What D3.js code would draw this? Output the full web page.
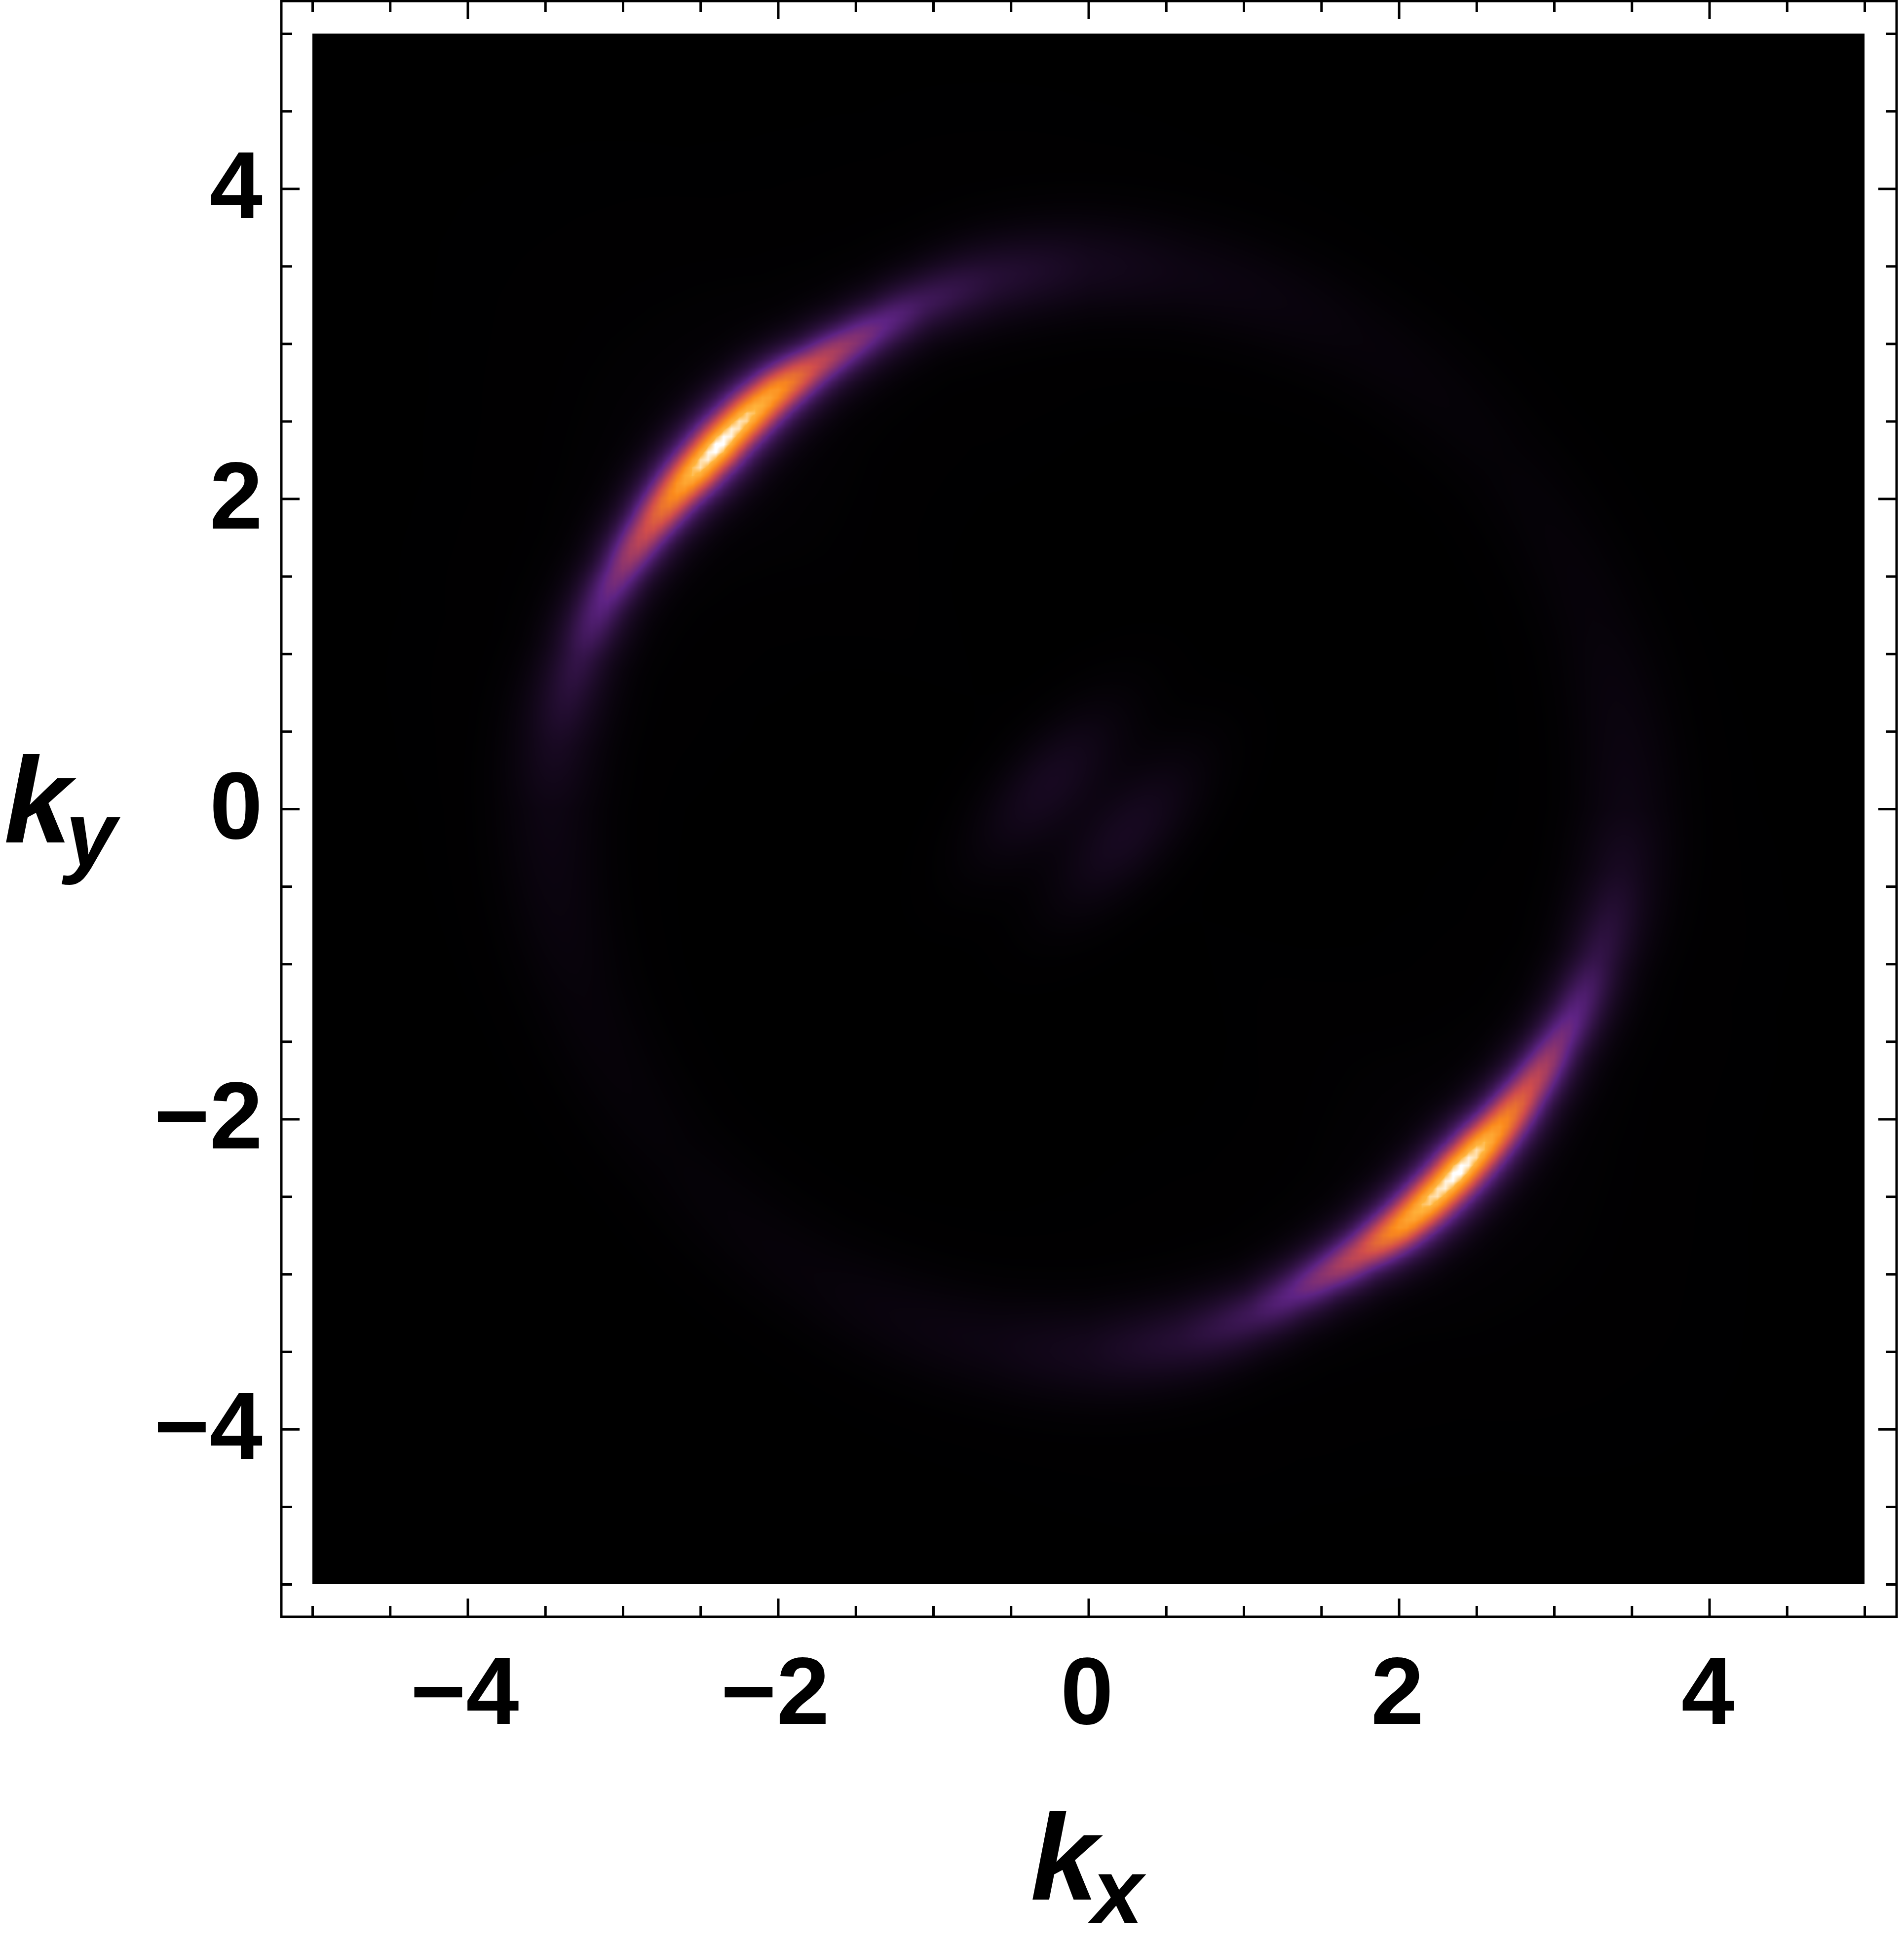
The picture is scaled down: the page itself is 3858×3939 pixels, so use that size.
<!DOCTYPE html>
<html><head><meta charset="utf-8">
<script src="https://cdn.jsdelivr.net/npm/d3@7"></script>
<style>
html,body{margin:0;padding:0;background:#fff;}
#wrap{position:relative;width:3858px;height:3939px;}
canvas,svg{position:absolute;left:0;top:0;}
text{font-family:"Liberation Sans",Arial,sans-serif;font-weight:bold;fill:#000;}
</style></head><body><div id="wrap"><canvas id="heat"></canvas><svg id="chart" width="3858" height="3939"></svg></div>
<script>
// Tick values
const majorTicks = [-4,-2,0,2,4];
const minorTicks = [-5,-4.5,-3.5,-3,-2.5,-1.5,-1,-0.5,0.5,1,1.5,2.5,3,3.5,4.5,5];
const domainK = [-5,5];
const ringAngle  = [0,20,40,60,80,90,100,108,113,117,121.6,126.7,131,135.6,139,142.4,147.4,153.4,157,163.3,173,180];
const ringRadius = [3.46,3.47,3.48,3.49,3.50,3.50,3.47,3.43,3.39,3.37,3.36,3.36,3.35,3.34,3.34,3.35,3.36,3.38,3.40,3.42,3.45,3.46];
const ringPeak   = [.035,.018,.012,.018,.035,.055,.10,.17,.26,.36,.50,.78,.93,1.0,.93,.76,.52,.33,.25,.14,.065,.035];
const ringWidth  = [.22,.23,.23,.23,.22,.21,.19,.165,.16,.16,.16,.16,.16,.16,.16,.16,.16,.16,.16,.17,.20,.22];
const ringSharp  = [0,0,0,0,0,0,.1,.3,.45,.55,.6,.62,.62,.62,.62,.62,.6,.55,.45,.3,.1,0];
// Faint central double streak
const blobX   = [-0.25,0.25];
const blobY   = [0.16,-0.16];
const blobAmp = [0.06,0.06];
const blobAxisDeg = 48, blobLong = 0.43, blobShort = 0.19;
// Colour ramp
const rampStops  = [0,0.25,0.5,0.72,0.87,0.97];
const rampColors = ["#000000","#5e2384","#cf4c4c","#fb8a1c","#ffb43c","#ffffff"];

const x = d3.scaleLinear().domain(domainK).range([633,3778]);
const y = d3.scaleLinear().domain(domainK).range([3210,68]);
const color = d3.scaleLinear().domain(rampStops).range(rampColors).interpolate(d3.interpolateRgb).clamp(true);

const rAt = d3.scaleLinear().domain(ringAngle).range(ringRadius);
const pAt = d3.scaleLinear().domain(ringAngle).range(ringPeak);
const wAt = d3.scaleLinear().domain(ringAngle).range(ringWidth);
const sAt = d3.scaleLinear().domain(ringAngle).range(ringSharp);
const ca = Math.cos(blobAxisDeg*Math.PI/180), sa = Math.sin(blobAxisDeg*Math.PI/180);
const coreSigma = 0.085;

function field(kx,ky){
  const r = Math.hypot(kx,ky);
  let th = Math.atan2(ky,kx)*180/Math.PI; if(th<0) th+=180;
  const d = r-rAt(th), w = wAt(th), p = pAt(th), f = sAt(th);
  let v = p*(f*Math.exp(-d*d/(2*coreSigma*coreSigma)) + (1-f)*(0.9*Math.exp(-d*d/(2*w*w)) + 0.1/(1+d*d/(w*w*4))));
  blobX.forEach((bx,i)=>{
    const dx=kx-bx, dy=ky-blobY[i];
    const a=dx*ca+dy*sa, b=-dx*sa+dy*ca;
    v += blobAmp[i]*Math.exp(-a*a/(2*blobLong*blobLong)-b*b/(2*blobShort*blobShort));
  });
  return v;
}

// Sample grid of cells
const N = 201, step = 10/(N-1);
const G = new Float32Array((N+4)*(N+4));
for(let j=-2;j<N+2;j++)for(let i=-2;i<N+2;i++){
  G[(j+2)*(N+4)+(i+2)] = field(-5+i*step,-5+j*step);
}
// Colour lookup
const LUT = new Uint8Array(3*2049);
for(let i=0;i<=2048;i++){const c=d3.rgb(color(i/2048));LUT[3*i]=c.r;LUT[3*i+1]=c.g;LUT[3*i+2]=c.b;}

const cv = document.getElementById('heat');
const px0=Math.round(x.range()[0]), px1=Math.round(x.range()[1]), py1=Math.round(y.range()[0]), py0=Math.round(y.range()[1]);
const W=px1-px0, H=py1-py0;
cv.width=W; cv.height=H; cv.style.left=px0+'px'; cv.style.top=py0+'px';
const ctx=cv.getContext('2d'); const img=ctx.createImageData(W,H); const D=img.data;
function bl(a,b,t){return a+(b-a)*t;}
const cols=new Float32Array(N+4);
const S=N+4;
for(let py=0;py<H;py++){
  const ky=y.invert(py0+py+0.5);
  const gy=(ky+5)/step; let j=Math.floor(gy); if(j>N-2)j=N-2; const ty=gy-j;
  for(let i=0;i<S;i++){ cols[i]=bl(G[(j+2)*S+i],G[(j+3)*S+i],ty); }
  for(let px=0;px<W;px++){
    const kx=x.invert(px0+px+0.5);
    const gx=(kx+5)/step; let i=Math.floor(gx); if(i>N-2)i=N-2; const tx=gx-i;
    let v=bl(cols[i+2],cols[i+3],tx);
    v=v<0?0:v>1?1:v;
    const q=3*Math.round(v*2048), o=4*(py*W+px);
    D[o]=LUT[q];D[o+1]=LUT[q+1];D[o+2]=LUT[q+2];D[o+3]=255;
  }
}
ctx.putImageData(img,0,0);

// Frame and ticks
const svg=d3.select('#chart');
const fL=570,fR=3843,fT=2,fB=3276, MAJ=37, MIN=22, SW=5;
function ticks(axisFn,vals,len,tr){
  const g=svg.append('g').attr('transform',tr).call(axisFn.tickValues(vals).tickSize(len).tickSizeOuter(0).tickFormat(''));
  g.select('.domain').remove();
  g.selectAll('line').attr('stroke','#000').attr('stroke-width',SW);
}
[[majorTicks,MAJ],[minorTicks,MIN]].forEach(([v,l])=>{
  ticks(d3.axisTop(x),v,l,`translate(0,${fB})`);
  ticks(d3.axisBottom(x),v,l,`translate(0,${fT})`);
  ticks(d3.axisRight(y),v,l,`translate(${fL},0)`);
  ticks(d3.axisLeft(y),v,l,`translate(${fR},0)`);
});
svg.append('rect').attr('x',fL).attr('y',fT).attr('width',fR-fL).attr('height',fB-fT)
  .attr('fill','none').attr('stroke','#000').attr('stroke-width',SW);

// Tick labels
const FS=193;
const fmt=d=>(d<0?"\u2212":"")+Math.abs(d);
svg.append('g').selectAll('text').data(majorTicks).join('text')
  .attr('x',d=>x(d)-(d<0?6:3)).attr('y',3493).attr('text-anchor','middle').attr('font-size',FS).text(fmt);
svg.append('g').selectAll('text').data(majorTicks).join('text')
  .attr('x',532).attr('y',d=>y(d)+60).attr('text-anchor','end').attr('font-size',FS).text(fmt);

// Axis titles
function title(tx,ty,main,sub){
  const t=svg.append('text').attr('x',tx).attr('y',ty).attr('font-size',246).attr('font-style','italic');
  t.append('tspan').text(main);
  t.append('tspan').attr('font-size',186).attr('dy',47).attr('dx',-12).text(sub);
}
title(2088,3849,'k','x');
title(8,1707,'k','y');
</script></body></html>
